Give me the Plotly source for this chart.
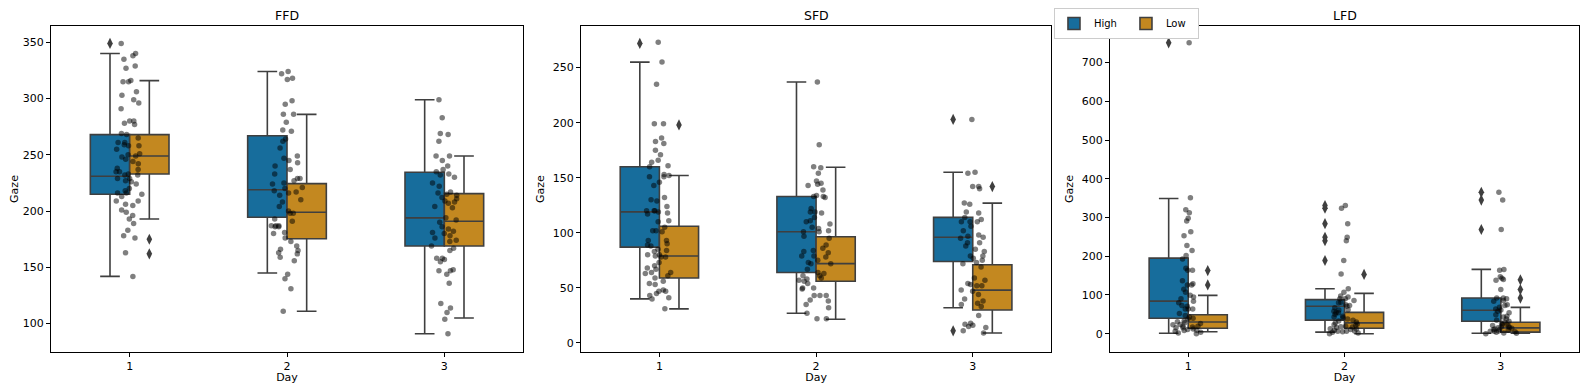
import plotly.graph_objects as go

# --- data ------------------------------------------------------------------
DAYS = ['1', '2', '3']
METRICS = ['FFD', 'SFD', 'LFD']

# box statistics per day: lower whisker, q1, median, q3, upper whisker
FFD_HIGH = [[142, 215, 231, 268, 340], [145, 194.5, 219, 267, 324], [91, 169, 194, 234.5, 299]]
FFD_LOW = [[193, 233, 249, 268, 316], [111, 175.5, 199, 224.4, 286], [105, 169, 191, 215.5, 249]]
SFD_HIGH = [[40, 87, 119, 160, 255], [27, 64, 101, 133, 237], [32, 74, 96, 114, 155]]
SFD_LOW = [[31, 59, 79, 106, 152], [21.5, 56, 72, 96.5, 159.5], [9, 30, 48, 71, 127]]
LFD_HIGH = [[1, 40, 84, 195, 349], [4, 35, 71, 88, 116], [1, 32, 60.5, 92, 166]]
LFD_LOW = [[5, 14, 30, 49, 99], [0, 14, 28, 55, 104], [1, 4, 15, 29.5, 68]]

# fliers per day
FFD_HIGH_OUT = [[349], [], []]
FFD_LOW_OUT = [[175, 162], [], []]
SFD_HIGH_OUT = [[272], [], [203, 11]]
SFD_LOW_OUT = [[198], [], [142]]
LFD_HIGH_OUT = [[751], [331, 324, 284, 249, 240, 189], [365, 345, 269]]
LFD_LOW_OUT = [[163, 126], [153], [139, 114, 92]]

# all observations per day (strip plot)
FFD_STRIP = [
    [349, 340, 338, 335, 329, 327, 316, 315, 315, 306, 303, 299, 296, 291, 280, 280, 278, 277,
     269, 268, 265, 261, 261, 259, 258, 258, 255, 251, 250, 249, 248, 246, 244, 242, 238, 237,
     235, 235, 233, 232, 232, 229, 229, 227, 226, 224, 220, 218, 216, 216, 215, 213, 209, 209,
     206, 205, 201, 199, 196, 193, 189, 183, 178, 176, 163, 142],
    [324, 322, 318, 317, 298, 295, 286, 286, 279, 272, 271, 264, 262, 256, 249, 247, 245, 243,
     240, 237, 233, 229, 229, 227, 225, 224, 221, 220, 218, 217, 216, 214, 210, 208, 204, 200,
     198, 198, 193, 191, 187, 187, 186, 187, 186, 181, 180, 176, 173, 169, 166, 165, 163, 162,
     159, 156, 144, 140, 131, 111],
    [299, 283, 269, 268, 262, 249, 249, 245, 240, 237, 235, 233, 232, 230, 225, 222, 217, 216,
     215, 214, 212, 211, 209, 208, 207, 204, 203, 194, 192, 190, 186, 184, 182, 181, 180, 178,
     176, 174, 173, 169, 167, 165, 158, 158, 157, 155, 148, 147, 147, 144, 136, 118, 114, 110,
     104, 91],
]
SFD_STRIP = [
    [273, 255, 235, 199, 199, 186, 183, 181, 175, 171, 166, 164, 161, 160, 153, 152, 151, 151,
     146, 143, 132, 130, 129, 124, 120, 120, 120, 119, 118, 117, 111, 110, 105, 102, 102, 101,
     93, 93, 90, 89, 88, 85, 84, 83, 80, 80, 79, 78, 78, 73, 70, 68, 67, 64, 64, 63, 61, 59, 56,
     54, 53, 48, 47, 47, 45, 43, 41, 40, 31],
    [237, 180, 160, 159, 154, 147, 145, 144, 143, 139, 134, 133, 132, 133, 122, 119, 119, 118,
     114, 111, 110, 108, 105, 104, 102, 101, 101, 97, 95, 89, 86, 84, 83, 82, 79, 79, 78, 75,
     73, 72, 72, 67, 64, 63, 61, 61, 59, 57, 56, 58, 54, 50, 49, 50, 43, 43, 43, 39, 38, 35, 32,
     27, 22, 22],
    [203, 155, 154, 142, 142, 140, 127, 126, 119, 118, 114, 112, 110, 110, 110, 106, 102, 98,
     96, 97, 95, 91, 91, 88, 85, 83, 79, 79, 77, 75, 73, 72, 69, 59, 57, 54, 53, 52, 52, 48, 47,
     44, 40, 38, 36, 35, 33, 25, 18, 17, 16, 15, 14, 11, 9],
]
LFD_STRIP = [
    [751, 351, 320, 312, 298, 291, 263, 253, 228, 215, 202, 193, 169, 164, 164, 137, 129, 126,
     126, 115, 107, 99, 95, 90, 84, 80, 73, 71, 64, 64, 64, 52, 47, 43, 40, 38, 33, 31, 28, 26,
     23, 19, 17, 15, 12, 11, 9, 8, 4, 2, 0, 6, 15, 19, 24],
    [331, 324, 284, 249, 240, 189, 154, 116, 107, 97, 95, 90, 90, 86, 81, 80, 75, 73, 71, 67,
     62, 58, 55, 54, 50, 45, 41, 38, 35, 33, 30, 28, 25, 23, 21, 19, 18, 16, 13, 12, 11, 9, 7,
     6, 5, 4, 2, 0, 6, 17, 43, 61],
    [365, 345, 269, 166, 164, 147, 143, 140, 138, 114, 92, 92, 90, 86, 84, 75, 73, 68, 64, 61,
     58, 54, 49, 45, 43, 38, 35, 32, 30, 26, 24, 23, 21, 19, 18, 16, 14, 12, 11, 9, 7, 6, 5, 4,
     2, 1, 0, 15, 6, 11],
]

Y_RANGES = [[74.8, 364.5], [-8.2, 287.8], [-47.3, 794.5]]
Y_TICKS = [list(range(100, 351, 50)), list(range(0, 251, 50)), list(range(0, 701, 100))]

HIGH_COLOR = '#176d9c'
LOW_COLOR = '#c38820'
EDGE = '#3f3f3f'
FONT = 'DejaVu Sans'

X_DOMAINS = [[0.0, 0.3089], [0.3469, 0.6545], [0.6931, 1.0]]

panels = [
    (FFD_HIGH, FFD_LOW, FFD_HIGH_OUT, FFD_LOW_OUT, FFD_STRIP),
    (SFD_HIGH, SFD_LOW, SFD_HIGH_OUT, SFD_LOW_OUT, SFD_STRIP),
    (LFD_HIGH, LFD_LOW, LFD_HIGH_OUT, LFD_LOW_OUT, LFD_STRIP),
]


def flatten(nested):
    xs, ys = [], []
    for day, vals in zip(DAYS, nested):
        xs += [day] * len(vals)
        ys += vals
    return xs, ys


fig = go.Figure()

for i, (high, low, high_out, low_out, strip) in enumerate(panels):
    n = '' if i == 0 else str(i + 1)
    xa, ya, xo = 'x' + n, 'y' + n, 'x' + str(i + 4)

    for name, stats, outs, color in [('High', high, high_out, HIGH_COLOR),
                                     ('Low', low, low_out, LOW_COLOR)]:
        fig.add_trace(go.Box(
            name=name, x=DAYS,
            lowerfence=[s[0] for s in stats], q1=[s[1] for s in stats],
            median=[s[2] for s in stats], q3=[s[3] for s in stats],
            upperfence=[s[4] for s in stats],
            fillcolor=color, line=dict(color=EDGE, width=1.6),
            whiskerwidth=0.5, boxpoints=False,
            offsetgroup=name, legendgroup=name, showlegend=(i == 0),
            xaxis=xa, yaxis=ya,
        ))
        ox, oy = flatten(outs)
        if oy:
            fig.add_trace(go.Box(
                x=ox, y=oy, offsetgroup=name, legendgroup=name, showlegend=False,
                boxpoints='all', jitter=0, pointpos=0,
                fillcolor='rgba(0,0,0,0)', line=dict(width=0),
                marker=dict(symbol='diamond-tall', size=8, color=EDGE),
                xaxis=xa, yaxis=ya,
            ))

    # strip plot on an overlaid axis so it sits centred on each day
    sx, sy = flatten(strip)
    fig.add_trace(go.Box(
        x=sx, y=sy, width=0.22, boxpoints='all', jitter=1, pointpos=0,
        fillcolor='rgba(0,0,0,0)', line=dict(width=0),
        marker=dict(color='rgba(0,0,0,0.5)', size=5.5),
        showlegend=False, xaxis=xo, yaxis=ya,
    ))

axis_common = dict(showline=True, mirror=True, linecolor='black', linewidth=1,
                   ticks='outside', ticklen=4, tickwidth=1, tickcolor='black',
                   showgrid=False, zeroline=False, automargin=False,
                   tickfont=dict(size=11, color='black', family=FONT))

# the page body adds an 8px margin, so the figure is sized to fit inside it
layout = dict(
    width=1576, height=376,
    margin=dict(l=43, r=5, t=18, b=32, autoexpand=False),
    plot_bgcolor='white', paper_bgcolor='white',
    font=dict(family=FONT, size=11, color='black'),
    boxmode='group', boxgap=0.5, boxgroupgap=0,
    legend=dict(orientation='h', x=0.6564, y=1.055, xanchor='left', yanchor='top',
                bordercolor='#cccccc', borderwidth=1, bgcolor='white',
                font=dict(size=10), entrywidth=27, itemwidth=30, tracegroupgap=0),
    annotations=[],
)

for i in range(3):
    n = '' if i == 0 else str(i + 1)
    layout['xaxis' + n] = dict(axis_common, domain=X_DOMAINS[i], anchor='y' + n,
                               type='category', categoryorder='array', categoryarray=DAYS,
                               range=[-0.5, 2.5],
                               title=dict(text='Day', font=dict(size=11), standoff=2))
    layout['yaxis' + n] = dict(axis_common, anchor='x' + n, range=Y_RANGES[i],
                               tickvals=Y_TICKS[i],
                               title=dict(text='Gaze', font=dict(size=11), standoff=6))
    layout['xaxis' + str(i + 4)] = dict(overlaying='x' + n, anchor='y' + n, visible=False,
                                        type='category', categoryorder='array',
                                        categoryarray=DAYS, range=[-0.5, 2.5])
    layout['annotations'].append(dict(
        text=METRICS[i], x=sum(X_DOMAINS[i]) / 2, y=1, xref='paper', yref='paper',
        xanchor='center', yanchor='bottom', yshift=1, showarrow=False,
        font=dict(size=12.5, family=FONT, color='black')))

fig.update_layout(layout)
fig.write_html('out.html')
